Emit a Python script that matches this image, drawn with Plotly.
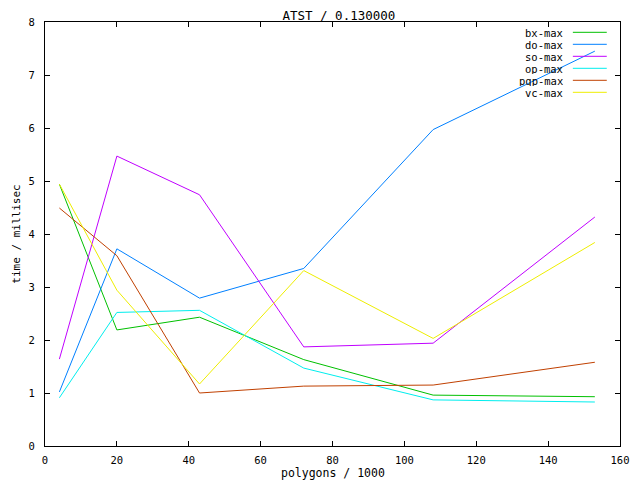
import plotly.graph_objects as go

x_polygons = [4, 20, 43, 72, 108, 153]
series_names = ["bx-max", "do-max", "so-max", "op-max", "pqp-max", "vc-max"]
bx_max = [4.94, 2.19, 2.43, 1.63, 0.96, 0.93]
do_max = [1.02, 3.72, 2.79, 3.35, 5.97, 7.45]
so_max = [1.64, 5.47, 4.74, 1.87, 1.94, 4.32]
op_max = [0.91, 2.52, 2.56, 1.47, 0.87, 0.83]
pqp_max = [4.49, 3.59, 1.00, 1.13, 1.15, 1.58]
vc_max = [4.94, 2.94, 1.17, 3.31, 2.03, 3.84]
x_ticks = [0, 20, 40, 60, 80, 100, 120, 140, 160]
y_ticks = [0, 1, 2, 3, 4, 5, 6, 7, 8]

series_values = [bx_max, do_max, so_max, op_max, pqp_max, vc_max]
colors = ["#00c000", "#0080ff", "#c000ff", "#00eeee", "#c04000", "#eeee00"]

FONT = "DejaVu Sans Mono"

fig = go.Figure()
for name, vals, c in zip(series_names, series_values, colors):
    fig.add_trace(go.Scatter(x=x_polygons, y=vals, mode="lines", name=name,
                             line=dict(color=c, width=1), showlegend=False))

# gnuplot-style legend: right-aligned text, line sample on its right
for i, (name, c) in enumerate(zip(series_names, colors)):
    ypos = 0.9757 - i * 0.0283
    fig.add_annotation(xref="paper", yref="paper", x=0.905, y=ypos, text=name,
                       showarrow=False, xanchor="right", yanchor="middle",
                       font=dict(family=FONT, size=10.5, color="black"),
                       height=11, valign="middle")
    fig.add_shape(type="line", xref="paper", yref="paper", x0=0.918, x1=0.977,
                  y0=ypos, y1=ypos, line=dict(color=c, width=1))

# axis titles placed like gnuplot's
fig.add_annotation(xref="paper", yref="paper", x=0.5, y=-0.064, text="polygons / 1000",
                   showarrow=False, xanchor="center", yanchor="middle",
                   font=dict(family=FONT, size=11.5, color="black"))
fig.add_annotation(xref="paper", yref="paper", x=-0.051, y=0.5, text="time / millisec",
                   showarrow=False, xanchor="center", yanchor="middle", textangle=-90,
                   font=dict(family=FONT, size=11, color="black"))

axis_common = dict(showline=True, linecolor="black", linewidth=1, mirror="ticks",
                   ticks="inside", ticklen=5, tickcolor="black", showgrid=False,
                   zeroline=False, automargin=False,
                   tickfont=dict(family=FONT, size=10.5, color="black"))

fig.update_layout(
    width=640, height=480,
    margin=dict(l=37, r=28, t=14, b=42),
    paper_bgcolor="white", plot_bgcolor="white",
    title=dict(text="ATST / 0.130000", x=0.517, xanchor="center", y=0.985, yanchor="middle",
               font=dict(family=FONT, size=12.5, color="black")),
    xaxis=dict(range=[0, 160], tickvals=x_ticks, ticklabelstandoff=4, **axis_common),
    yaxis=dict(range=[0, 8], tickvals=y_ticks, ticklabelstandoff=7, **axis_common),
)

fig.write_html("out.html")
